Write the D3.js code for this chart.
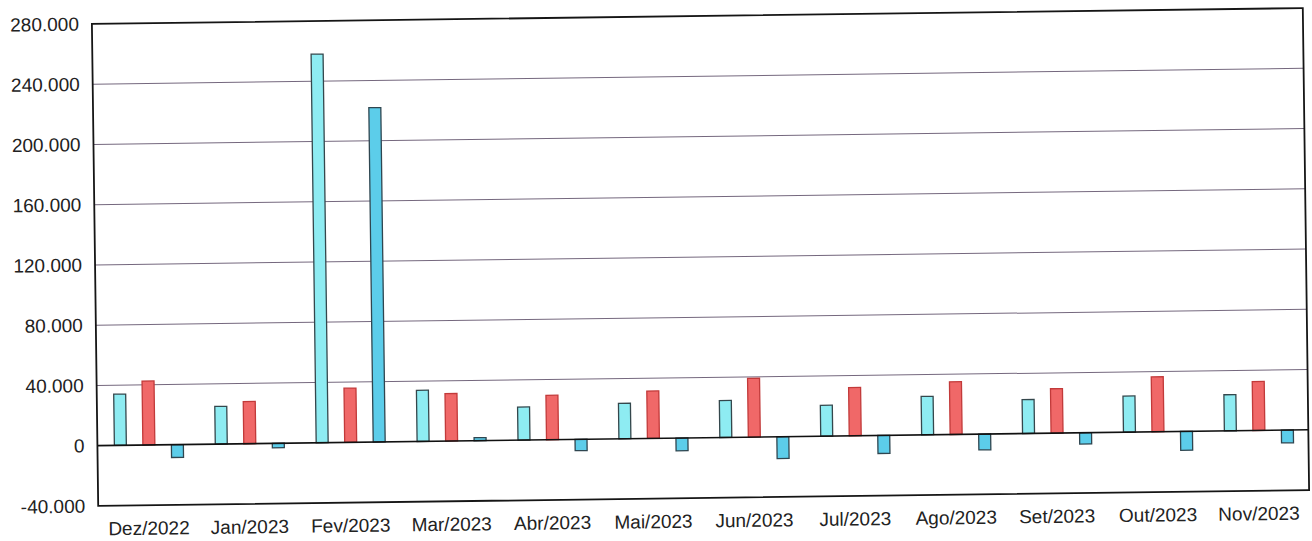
<!DOCTYPE html>
<html><head><meta charset="utf-8">
<script src="https://cdn.jsdelivr.net/npm/d3@7"></script>
<style>html,body{margin:0;padding:0;background:#fff;}svg{display:block;}</style>
</head><body>
<svg id="chart" width="1312" height="541"></svg>
<script>
const months = ["Dez/2022","Jan/2023","Fev/2023","Mar/2023","Abr/2023","Mai/2023","Jun/2023","Jul/2023","Ago/2023","Set/2023","Out/2023","Nov/2023"];
const seriesA = [34000, 25000, 258000, 34000, 22000, 23500, 24500, 20500, 25500, 22500, 24000, 24000];
const seriesB = [42500, 28000, 36000, 31500, 29500, 31500, 39000, 32000, 35000, 29500, 36500, 32500];
const seriesC = [-8500, -3000, 222000, 2000, -7500, -8500, -14500, -12000, -10500, -7500, -12500, -8500];
const yTicks = [-40000, 0, 40000, 80000, 120000, 160000, 200000, 240000, 280000];

const seriesNames = ["A","B","C"];
const seriesData = {A: seriesA, B: seriesB, C: seriesC};
const fills = {A: "#8eecf2", B: "#f06868", C: "#5ccdea"};
const strokes = {A: "#34474c", B: "#c23a3a", C: "#2f4650"};

const W = 1312, H = 541;
const m = {left: 95, right: 1306, top: 16, bottom: 498};
const cx = (m.left + m.right) / 2, cy = (m.top + m.bottom) / 2;

const loc = d3.formatLocale({decimal: ",", thousands: ".", grouping: [3], currency: ["R$", ""], minus: "-"});
const fmt = loc.format(",d");

const svg = d3.select("#chart");
svg.append("rect").attr("width", W).attr("height", H).attr("fill", "#fff");
const g = svg.append("g").attr("transform", `rotate(-0.75 ${cx} ${cy})`);

const x0 = d3.scaleBand().domain(months).range([m.left, m.right]).padding(0);
const groupW = 69;
const x1 = d3.scaleBand().domain(seriesNames).range([0, groupW]).paddingInner(0.58).paddingOuter(0);
const y = d3.scaleLinear().domain([-40000, 280000]).range([m.bottom, m.top]);

// gridlines
g.append("g").selectAll("line").data(yTicks.filter(t => t !== 0 && t !== 280000 && t !== -40000)).join("line")
  .attr("x1", m.left).attr("x2", m.right)
  .attr("y1", d => y(d)).attr("y2", d => y(d))
  .attr("stroke", "#75687e").attr("stroke-width", 1);

// y axis labels
const yAxis = d3.axisLeft(y).tickValues(yTicks).tickFormat(fmt).tickSize(0).tickPadding(13);
const ya = g.append("g").attr("transform", `translate(${m.left},0)`).call(yAxis);
ya.select(".domain").remove();
ya.selectAll("text").attr("font-family", "Liberation Sans, Arial, sans-serif").attr("font-size", 19).attr("fill", "#222");

// x axis labels
const xAxis = d3.axisBottom(x0).tickSize(0).tickPadding(16);
const xa = g.append("g").attr("transform", `translate(0,${m.bottom})`).call(xAxis);
xa.select(".domain").remove();
xa.selectAll("text").attr("font-family", "Liberation Sans, Arial, sans-serif").attr("font-size", 19).attr("fill", "#222");

// bars
const rows = [];
months.forEach((mo, i) => seriesNames.forEach(s => rows.push({month: mo, s, v: seriesData[s][i]})));
g.append("g").selectAll("rect").data(rows).join("rect")
  .attr("x", d => x0(d.month) + x0.bandwidth() / 2 - groupW / 2 + x1(d.s) + 1)
  .attr("width", x1.bandwidth())
  .attr("y", d => y(Math.max(0, d.v)))
  .attr("height", d => Math.abs(y(d.v) - y(0)))
  .attr("fill", d => fills[d.s])
  .attr("stroke", d => strokes[d.s])
  .attr("stroke-width", 1.3);

// zero line
g.append("line").attr("x1", m.left).attr("x2", m.right).attr("y1", y(0)).attr("y2", y(0))
  .attr("stroke", "#111").attr("stroke-width", 1.6);

// plot border
g.append("rect").attr("x", m.left).attr("y", m.top).attr("width", m.right - m.left).attr("height", m.bottom - m.top)
  .attr("fill", "none").attr("stroke", "#151515").attr("stroke-width", 1.8);
</script>
</body></html>
